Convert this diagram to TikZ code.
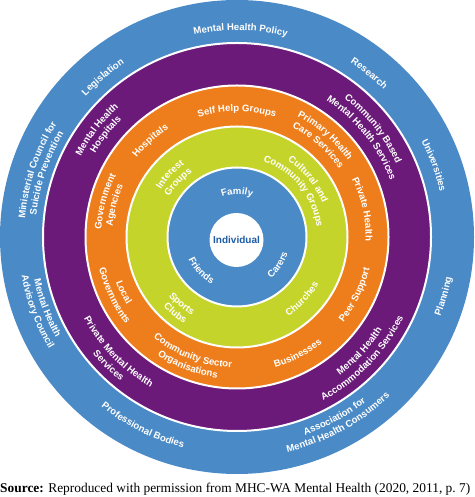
\documentclass[tikz,border=0pt]{standalone}
\usepackage{fontspec}
\setmainfont{Liberation Serif}
\newfontfamily\lblfont{Liberation Sans}
\usetikzlibrary{decorations.text}
\definecolor{ringblue}{HTML}{4A8AC6}
\definecolor{ringpurple}{HTML}{6B1A79}
\definecolor{ringorange}{HTML}{EE7E1C}
\definecolor{ringyellow}{HTML}{C5D42B}
\definecolor{indblue}{HTML}{1E5CA6}
\newcommand\lbl{\lblfont\bfseries\fontsize{9.6}{11}\selectfont}
% label along an arc, read clockwise (upper half, letter tops outward)
\newcommand\TopLabel[3]{%
  \pgfmathsetmacro\myR{#2-3.3}%
  \pgfmathsetmacro\myA{#1+70}%
  \pgfmathsetmacro\myB{#1-70}%
  \path[decorate,decoration={text along path,text align=center,text color=white,text={|\lbl|#3}}]
    (C) ++(\myA:\myR pt) arc[start angle=\myA,end angle=\myB,radius=\myR pt];}
% label along an arc, read counter-clockwise (lower half, letter tops inward)
\newcommand\BotLabel[3]{%
  \pgfmathsetmacro\myR{#2+3.3}%
  \pgfmathsetmacro\myA{#1-70}%
  \pgfmathsetmacro\myB{#1+70}%
  \path[decorate,decoration={text along path,text align=center,text color=white,text={|\lbl|#3}}]
    (C) ++(\myA:\myR pt) arc[start angle=\myA,end angle=\myB,radius=\myR pt];}
\tikzset{ringsep/.style={draw=white,line width=2pt}}
\begin{document}
\begin{tikzpicture}[x=1pt,y=1pt]
\useasboundingbox (0,0) rectangle (474,497);
\coordinate (C) at (237,260);
% rings
\fill[ringblue] (C) circle[radius=237pt];
\path[ringsep,fill=ringpurple] (C) circle[radius=194pt];
\path[ringsep,fill=ringorange] (C) circle[radius=151.5pt];
\path[ringsep,fill=ringyellow] (C) circle[radius=110.5pt];
\path[ringsep,fill=ringblue] (C) circle[radius=69.5pt];
\node[circle,fill=white,minimum size=54pt,inner sep=0pt,text=indblue,
  font=\lblfont\bfseries\fontsize{10}{12}\selectfont] (ind) at (236.5,257) {Individual};
% outer blue ring
\TopLabel{89}{210}{Mental Health Policy}
\TopLabel{130}{210}{Legislation}
\TopLabel{51}{211}{Research}
\TopLabel{20}{211}{Universities}
\TopLabel{161.5}{216}{Ministerial Council for}
\TopLabel{161.5}{205}{Suicide Prevention}
\BotLabel{200.5}{204}{Mental Health}
\BotLabel{200.5}{215.5}{Advisory Council}
\BotLabel{243.5}{214}{Professional Bodies}
\BotLabel{298.5}{206}{Association for}
\BotLabel{298.5}{217.5}{Mental Health Consumers}
\BotLabel{344}{215}{Planning}
% purple ring
\TopLabel{142.5}{179}{Mental Health}
\TopLabel{142}{168}{Hospitals}
\TopLabel{38.5}{178.5}{Community Based}
\TopLabel{38.5}{166.5}{Mental Health Services}
\BotLabel{224}{170}{Private Mental Health}
\BotLabel{225}{182}{Services}
\BotLabel{317}{169}{Mental Health}
\BotLabel{316}{181.5}{Accommodation Services}
% orange ring
\TopLabel{90}{129}{Self Help Groups}
\TopLabel{132}{131}{Hospitals}
\TopLabel{49}{138}{Primary Health}
\TopLabel{48.5}{126}{Care Services}
\TopLabel{165}{139}{Government}
\TopLabel{165.5}{128}{Agencies}
\TopLabel{12.5}{132}{Private Health}
\BotLabel{206}{126}{Local}
\BotLabel{205.5}{138}{Governments}
\BotLabel{249}{127.5}{Community Sector}
\BotLabel{249}{139}{Organisations}
\BotLabel{297.5}{133}{Businesses}
\BotLabel{334}{133}{Peer Support}
% yellow ring
\TopLabel{137}{93}{Interest}
\TopLabel{137}{82}{Groups}
\TopLabel{39}{95}{Cultural and}
\TopLabel{39}{83.5}{Community Groups}
\BotLabel{230.5}{87}{Sports}
\BotLabel{231}{98}{Clubs}
\BotLabel{316.5}{91}{Churches}
% inner blue ring
\TopLabel{90}{46}{Family}
\BotLabel{223}{50}{Friends}
\BotLabel{326}{50}{Carers}
% source line
\node[anchor=base west,inner sep=0pt,font=\fontsize{13.4}{15}\selectfont] (src) at (0,4.5)
  {\textbf{Source:} Reproduced with permission from MHC-WA Mental Health (2020, 2011, p.~7)};
\end{tikzpicture}
\end{document}
